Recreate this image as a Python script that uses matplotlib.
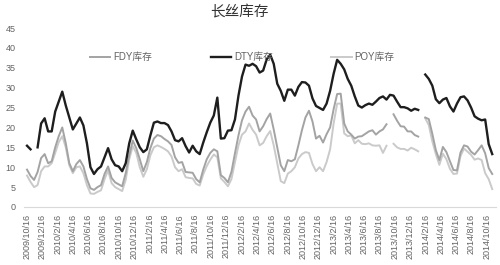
import matplotlib
matplotlib.use("Agg")
import matplotlib.pyplot as plt
import matplotlib.dates as mdates
import numpy as np
import pandas as pd

nan = np.nan

# ---- data (fortnightly readings, starting 2009-10-16) ----
start_date = "2009-10-16"

dty = [15.4, 14.5, nan, 15.0, 21.0, 22.3, 19.0, 19.0, 24.0, 26.5,
       29.0, 25.5, 22.5, 19.5, 21.0, 22.5, 20.5, 16.0, 10.0, 8.3,
       9.5, 10.2, 12.5, 14.8, 12.0, 10.5, 10.2, 9.0, 11.0, 16.0,
       19.2, 17.0, 15.0, 13.8, 14.5, 18.0, 21.2, 21.5, 21.1, 21.1,
       20.6, 19.0, 16.8, 16.5, 17.3, 15.3, 13.7, 15.4, 14.0, 13.3,
       16.2, 18.8, 21.2, 23.0, 27.5, 17.2, 17.3, 19.2, 19.3, 22.0,
       28.0, 32.8, 35.8, 35.5, 36.0, 35.4, 33.8, 34.3, 37.1, 38.3,
       36.0, 31.0, 29.2, 26.7, 29.5, 29.5, 28.0, 30.2, 31.4, 31.3,
       30.5, 27.3, 25.4, 24.9, 24.4, 26.0, 29.2, 33.5, 37.0, 36.0,
       34.6, 32.2, 30.5, 27.8, 25.5, 25.0, 25.6, 26.0, 25.7, 26.5,
       27.4, 27.8, 27.0, 28.2, 28.0, 26.5, 25.1, 25.1, 24.8, 24.2,
       24.7, 24.4, nan, 33.3, 32.2, 30.5, 27.1, 26.1, 27.0, 27.4,
       25.3, 24.0, 26.0, 27.6, 27.8, 26.8, 25.0, 22.8, 22.2, 21.8,
       22.0, 15.8, 13.3]

fdy = [9.4, 7.8, 6.8, 8.8, 12.3, 13.3, 11.0, 11.5, 15.0, 17.8,
       20.0, 16.0, 11.0, 9.0, 10.8, 11.8, 10.2, 7.0, 4.7, 4.3,
       5.0, 5.5, 8.3, 10.2, 7.3, 6.2, 5.7, 5.2, 8.5, 13.0,
       16.7, 14.8, 12.0, 9.0, 11.3, 14.8, 17.2, 18.1, 17.8, 17.1,
       16.5, 15.6, 12.5, 11.1, 11.3, 8.8, 8.7, 8.6, 7.0, 6.2,
       9.4, 12.0, 13.6, 14.5, 14.0, 8.0, 7.3, 6.2, 8.8, 13.5,
       18.0, 21.8, 24.0, 25.2, 23.0, 22.0, 19.0, 20.3, 22.1, 23.5,
       19.5, 15.0, 10.5, 9.0, 11.8, 11.5, 12.0, 15.5, 19.3, 22.5,
       24.2, 21.5, 17.2, 17.9, 16.2, 18.3, 20.0, 24.6, 28.4, 28.5,
       21.0, 19.0, 18.2, 17.2, 17.7, 17.8, 18.4, 19.0, 19.3, 18.2,
       19.0, 19.5, 20.8, nan, 23.3, 21.7, 20.3, 20.2, 19.0, 19.0,
       18.1, 17.7, nan, 22.5, 22.1, 18.4, 14.3, 11.8, 15.1, 13.8,
       11.5, 9.3, 9.2, 13.7, 15.5, 15.2, 13.9, 13.2, 14.3, 15.5,
       13.5, 9.8, 8.3]

poy = [7.9, 6.3, 5.0, 5.5, 9.0, 10.2, 10.2, 11.0, 13.6, 16.3,
       17.8, 15.0, 10.5, 8.5, 10.0, 10.2, 8.5, 5.5, 3.4, 3.3,
       3.8, 4.2, 7.0, 9.2, 6.0, 5.0, 4.5, 4.0, 6.8, 12.0,
       15.3, 13.6, 10.0, 7.6, 9.5, 13.0, 15.0, 15.5, 15.1, 14.6,
       14.0, 12.7, 10.0, 9.0, 9.5, 7.5, 7.3, 7.2, 5.8, 5.4,
       8.2, 10.3, 11.9, 13.2, 12.5, 7.2, 6.3, 5.2, 7.0, 11.3,
       15.5, 18.2, 19.0, 21.0, 19.4, 18.2, 15.5, 16.1, 17.8, 19.1,
       15.5, 11.0, 6.5, 6.0, 8.4, 9.0, 10.0, 12.2, 13.3, 13.8,
       13.6, 10.8, 9.0, 10.0, 9.0, 11.3, 14.5, 21.0, 26.0, 26.0,
       18.5, 17.8, 18.0, 16.0, 16.8, 15.9, 15.8, 16.0, 15.5, 15.4,
       15.5, 13.6, 15.4, nan, 15.9, 15.0, 14.6, 14.6, 14.2, 14.9,
       14.5, 14.0, nan, 22.3, 20.6, 16.5, 13.3, 10.6, 13.4, 12.0,
       9.6, 8.3, 8.4, 12.8, 14.7, 13.9, 13.1, 11.9, 12.2, 11.8,
       8.5, 7.0, 4.5]

series_names = ["FDY库存", "DTY库存", "POY库存"]
title_text = "长丝库存"
y_ticks = [0, 5, 10, 15, 20, 25, 30, 35, 40, 45]
x_tick_labels = ["2009/10/16", "2009/12/16", "2010/2/16", "2010/4/16", "2010/6/16",
                 "2010/8/16", "2010/10/16", "2010/12/16", "2011/2/16", "2011/4/16",
                 "2011/6/16", "2011/8/16", "2011/10/16", "2011/12/16", "2012/2/16",
                 "2012/4/16", "2012/6/16", "2012/8/16", "2012/10/16", "2012/12/16",
                 "2013/2/16", "2013/4/16", "2013/6/16", "2013/8/16", "2013/10/16",
                 "2013/12/16", "2014/2/16", "2014/4/16", "2014/6/16", "2014/8/16",
                 "2014/10/16"]

dates = pd.date_range(start_date, periods=len(dty), freq="14D")
tick_pos = pd.to_datetime(x_tick_labels, format="%Y/%m/%d")

# ---- figure ----
W, H = 500, 265
fig = plt.figure(figsize=(W / 100, H / 100), dpi=100)
ax = fig.add_axes([24 / W, 58 / H, (496 - 24) / W, (237 - 58) / H])

cjk = ["Liberation Sans", "Noto Sans CJK SC"]

ax.plot(dates, fdy, color="#a3a3a3", lw=1.4, label=series_names[0], zorder=3)
ax.plot(dates, dty, color="#1e1e1e", lw=1.7, label=series_names[1], zorder=4)
ax.plot(dates, poy, color="#cacaca", lw=1.4, label=series_names[2], zorder=2)

d0 = pd.Timestamp(start_date)
ax.set_xlim(d0 - pd.Timedelta(days=12), d0 + pd.Timedelta(days=1863))
ax.set_ylim(0, 45)

ax.set_yticks(y_ticks)
ax.set_yticklabels([str(v) for v in y_ticks], fontsize=6.5, color="#636363",
                   family="Liberation Sans")
ax.set_xticks(tick_pos)
ax.set_xticklabels(x_tick_labels, rotation=90, fontsize=6.5, color="#636363",
                   family="Liberation Sans")
ax.tick_params(axis="both", length=0)
ax.tick_params(axis="y", pad=6)
ax.tick_params(axis="x", pad=5)

for s in ["top", "right", "left"]:
    ax.spines[s].set_visible(False)
ax.spines["bottom"].set_color("#d9d9d9")
ax.spines["bottom"].set_linewidth(0.8)

fig.text(239 / W, 1 - 12 / H, title_text, ha="center", va="center",
         fontsize=10.5, color="#333333", family=["Noto Sans CJK SC"])

leg = fig.legend(loc="center left", bbox_to_anchor=(90 / W, 1 - 57 / H), ncol=3,
                 frameon=False, borderpad=0, borderaxespad=0,
                 handlelength=2.1, handletextpad=0.3, columnspacing=6.0,
                 prop={"family": cjk, "size": 7})
for t in leg.get_texts():
    t.set_color("#636363")

fig.savefig("out.png", dpi=100)
